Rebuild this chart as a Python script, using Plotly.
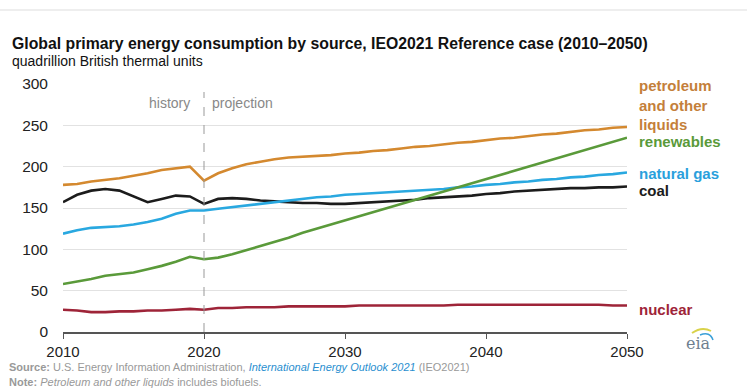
import plotly.graph_objects as go

years = list(range(2010, 2051))

petroleum = [178, 179, 182, 184, 186, 189, 192, 196, 198, 200, 183, 192, 198, 203, 206, 209, 211, 212, 213, 214,
             216, 217, 219, 220, 222, 224, 225, 227, 229, 230, 232, 234, 235, 237, 239, 240, 242, 244, 245, 247, 248]
coal = [157, 166, 171, 173, 171, 164, 157, 161, 165, 164, 155, 161, 162, 161, 159, 158, 157, 156, 156, 155,
        155, 156, 157, 158, 159, 160, 162, 163, 164, 165, 167, 168, 170, 171, 172, 173, 174, 174, 175, 175, 176]
natural_gas = [119, 123, 126, 127, 128, 130, 133, 137, 143, 147, 147, 149, 151, 153, 155, 157, 159, 161, 163, 164,
               166, 167, 168, 169, 170, 171, 172, 173, 175, 176, 178, 179, 181, 182, 184, 185, 187, 188, 190, 191, 193]
renewables = [58, 61, 64, 68, 70, 72, 76, 80, 85, 91, 88, 90, 94, 99, 104, 109, 114, 120, 125, 130,
              135, 140, 145, 150, 155, 160, 165, 170, 175, 180, 185, 190, 195, 200, 205, 210, 215, 220, 225, 230, 235]
nuclear = [27, 26, 24, 24, 25, 25, 26, 26, 27, 28, 27, 29, 29, 30, 30, 30, 31, 31, 31, 31,
           31, 32, 32, 32, 32, 32, 32, 32, 33, 33, 33, 33, 33, 33, 33, 33, 33, 33, 33, 32, 32]

series = [
    ("petroleum", petroleum, "#d4892f"),
    ("coal", coal, "#1c1c1c"),
    ("natural gas", natural_gas, "#29a8e0"),
    ("renewables", renewables, "#5a9a3a"),
    ("nuclear", nuclear, "#9e2438"),
]

y_ticks = [0, 50, 100, 150, 200, 250, 300]
x_ticks = [2010, 2020, 2030, 2040, 2050]

labels = [
    ("petroleum<br>and other<br>liquids", 105, "#c47f3a"),
    ("renewables", 141, "#5a9a3a"),
    ("natural gas", 173, "#2aa0dc"),
    ("coal", 190, "#1c1c1c"),
    ("nuclear", 309, "#9e2438"),
]

W, H = 747, 390
L, R, T, B = 63, 120, 84, 58
PW, PH = W - L - R, H - T - B


def px(x):
    return (x - L) / PW


def py(y):
    return (H - B - y) / PH


FONT = "Liberation Sans, Arial, sans-serif"

fig = go.Figure()
for name, vals, col in series:
    fig.add_trace(go.Scatter(x=years, y=vals, mode="lines", name=name,
                             line=dict(color=col, width=2.6), showlegend=False,
                             hoverinfo="skip"))

fig.update_layout(
    width=W, height=H,
    margin=dict(l=L, r=R, t=T, b=B),
    paper_bgcolor="white", plot_bgcolor="white",
    font=dict(family=FONT, color="#333"),
    xaxis=dict(range=[2010, 2050], tickvals=x_ticks, showgrid=False, zeroline=False,
               showline=True, linecolor="#555", linewidth=1.5, ticks="outside", ticklen=5,
               tickcolor="#555", tickfont=dict(size=15, color="#222"), fixedrange=True),
    yaxis=dict(range=[0, 300], tickvals=y_ticks, showgrid=True, gridcolor="#e2e2e2",
               gridwidth=1, zeroline=False, showline=False, ticks="",
               tickfont=dict(size=15.5, color="#222"), ticklabelstandoff=14, fixedrange=True),
)

# vertical dashed line at 2020
fig.add_shape(type="line", x0=2020, x1=2020, xref="x", y0=0, y1=py(92), yref="paper",
              line=dict(color="#999", width=1, dash="dash"))
fig.add_annotation(x=2020, y=py(103), xref="x", yref="paper", text="history", showarrow=False,
                   xanchor="right", yanchor="middle", xshift=-12,
                   font=dict(size=14, color="#888"))
fig.add_annotation(x=2020, y=py(103), xref="x", yref="paper", text="projection", showarrow=False,
                   xanchor="left", yanchor="middle", xshift=6,
                   font=dict(size=14, color="#888"))

# right-side labels
for txt, ypix, col in labels:
    fig.add_annotation(x=px(637), y=py(ypix), xref="paper", yref="paper", text=f"<b>{txt}</b>",
                       showarrow=False, xanchor="left", yanchor="middle", align="left",
                       font=dict(size=15, color=col))

fig.add_annotation(x=px(10), y=py(43), xref="paper", yref="paper",
                   text="<b>Global primary energy consumption by source, IEO2021 Reference case (2010–2050)</b>",
                   showarrow=False, xanchor="left", yanchor="middle", font=dict(size=15.8, color="#111"))
fig.add_annotation(x=px(10), y=py(61), xref="paper", yref="paper",
                   text="quadrillion British thermal units",
                   showarrow=False, xanchor="left", yanchor="middle", font=dict(size=14, color="#111"))

fig.add_annotation(x=px(7), y=py(367), xref="paper", yref="paper",
                   text="<b>Source:</b> U.S. Energy Information Administration, <i><span style='color:#2a8fd0'>International Energy Outlook 2021</span></i> (IEO2021)",
                   showarrow=False, xanchor="left", yanchor="middle", font=dict(size=11, color="#999"))
fig.add_annotation(x=px(7), y=py(382), xref="paper", yref="paper",
                   text="<b>Note:</b> <i>Petroleum and other liquids</i> includes biofuels.",
                   showarrow=False, xanchor="left", yanchor="middle", font=dict(size=11, color="#999"))

# eia logo
fig.add_annotation(x=px(698), y=py(343), xref="paper", yref="paper", text="eia", showarrow=False,
                   xanchor="center", yanchor="middle",
                   font=dict(size=16, color="#6f7f8f", family="DejaVu Serif, serif"))
fig.add_shape(type="path", xref="paper", yref="paper",
              path=f"M {px(692)} {py(333)} Q {px(702)} {py(326)} {px(711)} {py(331)}",
              line=dict(color="#d9d24a", width=2))
fig.add_shape(type="path", xref="paper", yref="paper",
              path=f"M {px(700)} {py(335)} Q {px(710)} {py(331)} {px(713)} {py(340)}",
              line=dict(color="#3aa0d8", width=1.5))

# thin top rule
fig.add_shape(type="line", x0=0, x1=px(W), xref="paper", y0=py(10), y1=py(10), yref="paper",
              line=dict(color="#ddd", width=1))
fig.update_shapes(x0=None) if False else None
fig.layout.shapes[-1].x0 = px(0)

fig.write_html("out.html")
